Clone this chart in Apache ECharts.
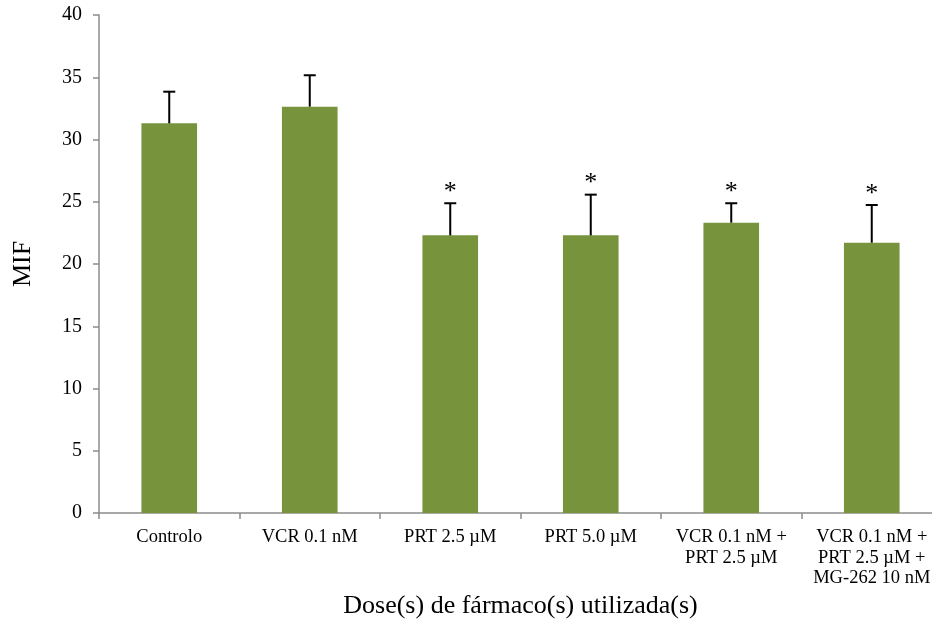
<!DOCTYPE html>
<html>
<head>
<meta charset="utf-8">
<title>MIF</title>
<script src="https://cdn.jsdelivr.net/npm/echarts@6/dist/echarts.min.js"></script>
<style>
  html, body { margin: 0; padding: 0; background: #ffffff; }
  #chart { width: 932px; height: 628px; }
</style>
</head>
<body>
<div id="chart"></div>
<script>
// Treatment groups
const categories = [
  'Controlo',
  'VCR 0.1 nM',
  'PRT 2.5 \u00b5M',
  'PRT 5.0 \u00b5M',
  'VCR 0.1 nM +\nPRT 2.5 \u00b5M',
  'VCR 0.1 nM +\nPRT 2.5 \u00b5M +\nMG-262 10 nM'
];
// Mean MIF per group
const meanValues = [31.3, 32.64, 22.3, 22.3, 23.32, 21.71];
// Standard deviation (upper error bar only)
const sdValues = [2.54, 2.52, 2.58, 3.27, 1.56, 3.03];
// Statistically significant vs. control
const significant = [false, false, true, true, true, true];
// Y-axis ticks
const yTicks = [0, 5, 10, 15, 20, 25, 30, 35, 40];

const serif = '"Liberation Serif", "Times New Roman", serif';
const axisGray = '#8c8c8c';

const errorData = meanValues.map((v, i) => [i, v, v + sdValues[i], significant[i] ? 1 : 0]);

const chart = echarts.init(document.getElementById('chart'), null, { renderer: 'canvas' });

chart.setOption({
  animation: false,
  backgroundColor: '#ffffff',
  grid: {
    left: 99, right: -10, top: 15, bottom: 115,
    containLabel: false,
    outerBoundsMode: 'none'
  },
  xAxis: {
    type: 'category',
    data: categories,
    name: 'Dose(s) de f\u00e1rmaco(s) utilizada(s)',
    nameLocation: 'middle',
    nameGap: 80,
    nameTextStyle: { fontFamily: serif, fontSize: 26, color: '#000' },
    axisLine: { lineStyle: { color: axisGray, width: 1.5 } },
    axisTick: { show: true, length: 6, alignWithLabel: false, lineStyle: { color: axisGray, width: 1.5 } },
    axisLabel: {
      interval: 0,
      margin: 14,
      fontFamily: serif,
      fontSize: 18.5,
      lineHeight: 20.5,
      color: '#000',
      align: 'center'
    }
  },
  yAxis: {
    type: 'value',
    min: yTicks[0],
    max: yTicks[yTicks.length - 1],
    interval: 5,
    name: 'MIF',
    nameLocation: 'middle',
    nameGap: 63,
    nameTextStyle: { fontFamily: serif, fontSize: 26, color: '#000' },
    axisLine: { show: true, lineStyle: { color: axisGray, width: 1.5 } },
    axisTick: { show: true, length: 6, lineStyle: { color: axisGray, width: 1.5 } },
    splitLine: { show: false },
    axisLabel: { margin: 17, fontFamily: serif, fontSize: 20, color: '#000' }
  },
  series: [
    {
      type: 'bar',
      data: meanValues,
      barWidth: '39.6%',
      itemStyle: { color: '#77933c' },
      silent: true
    },
    {
      type: 'custom',
      data: errorData,
      silent: true,
      z: 5,
      renderItem: function (params, api) {
        const idx = api.value(0);
        const base = api.coord([idx, api.value(1)]);
        const top = api.coord([idx, api.value(2)]);
        const half = 6;
        const style = { stroke: '#000', lineWidth: 2 };
        const children = [
          { type: 'line', shape: { x1: base[0], y1: base[1], x2: top[0], y2: top[1] }, style: style },
          { type: 'line', shape: { x1: top[0] - half, y1: top[1], x2: top[0] + half, y2: top[1] }, style: style }
        ];
        if (api.value(3)) {
          children.push({
            type: 'text',
            style: {
              text: '*',
              x: top[0],
              y: top[1] + 2,
              align: 'center',
              verticalAlign: 'bottom',
              font: '26px ' + serif,
              fill: '#000'
            }
          });
        }
        return { type: 'group', children: children };
      }
    }
  ]
});
</script>
</body>
</html>
